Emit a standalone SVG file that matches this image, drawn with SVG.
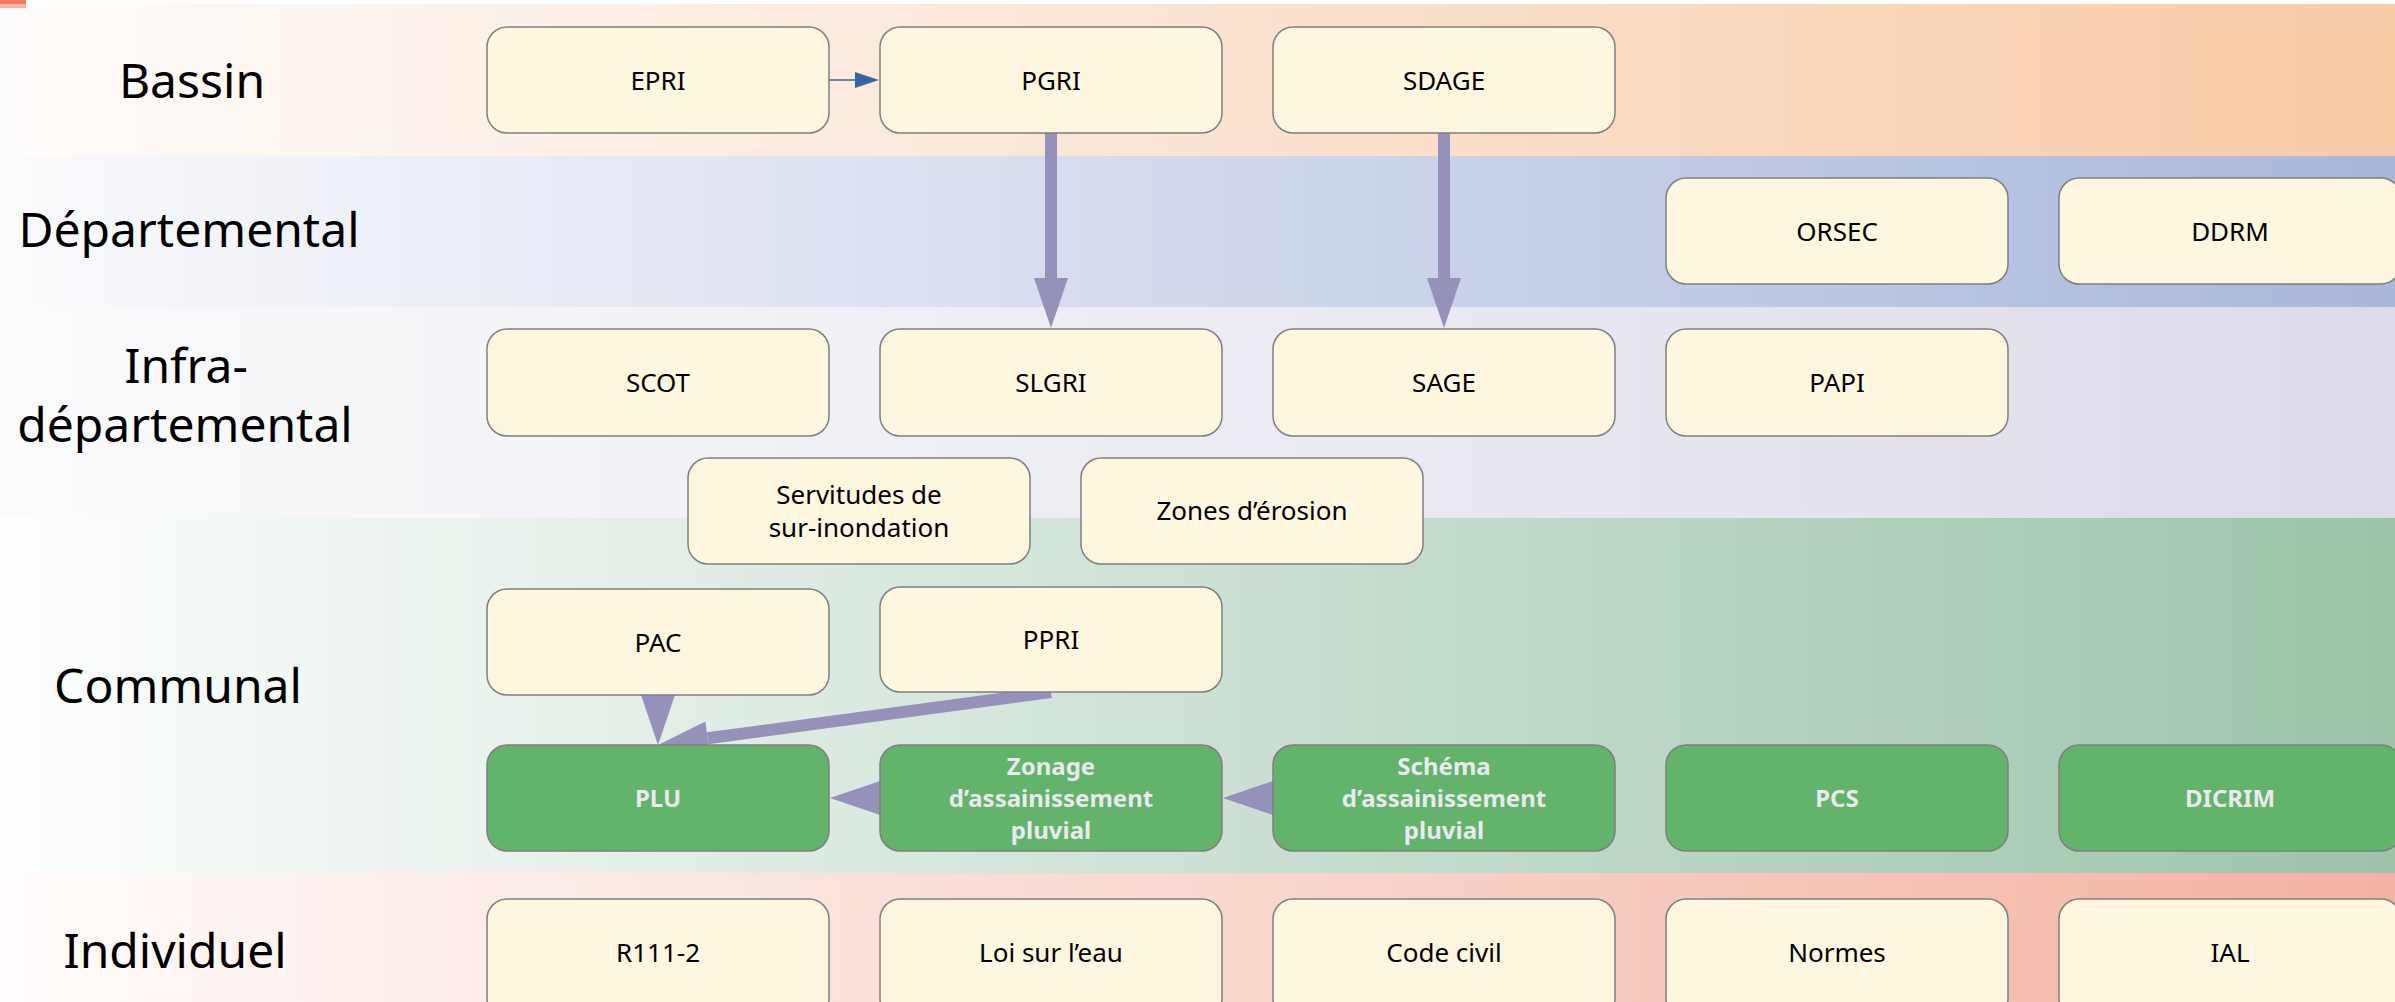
<svg xmlns="http://www.w3.org/2000/svg" width="2395" height="1002" viewBox="0 0 2395 1002">
<defs>
<linearGradient id="gBassin" x1="0" y1="0" x2="1" y2="0"><stop offset="0" stop-color="#fefcfb"/><stop offset="1" stop-color="#f8cba7"/></linearGradient>
<linearGradient id="gDept" x1="0" y1="0" x2="1" y2="0"><stop offset="0" stop-color="#fbfbfd"/><stop offset="1" stop-color="#a9b7db"/></linearGradient>
<linearGradient id="gInfra" x1="0" y1="0" x2="1" y2="0"><stop offset="0" stop-color="#fbfbfc"/><stop offset="1" stop-color="#dedbe9"/></linearGradient>
<linearGradient id="gComm" x1="0" y1="0" x2="1" y2="0"><stop offset="0" stop-color="#fdfefd"/><stop offset="1" stop-color="#9dc4ab"/></linearGradient>
<linearGradient id="gIndiv" x1="0" y1="0" x2="1" y2="0"><stop offset="0" stop-color="#fffcfb"/><stop offset="1" stop-color="#f4b3a2"/></linearGradient>
<marker id="heavy" markerUnits="userSpaceOnUse" markerWidth="50" markerHeight="34" refX="0" refY="17" orient="auto" overflow="visible"><path d="M0,0 L50,17 L0,34 Z" fill="#9591bb"/></marker>
<marker id="blue" markerUnits="userSpaceOnUse" markerWidth="24" markerHeight="16" refX="0" refY="8" orient="auto" overflow="visible"><path d="M0,0 L24,8 L0,16 Z" fill="#3366a8"/></marker>
<style>
.lbl{font-family:"Noto Sans","Liberation Sans",sans-serif;font-size:48px;fill:#000;text-anchor:middle}
.box{fill:#fdf7df;stroke:#7f7f7f;stroke-width:1.5}
.gbox{fill:#62b46a;stroke:#7f7f7f;stroke-width:1.5}
.t{font-family:"Noto Sans","Liberation Sans",sans-serif;font-size:26px;fill:#000;text-anchor:middle}
.gt{font-family:"Noto Sans","Liberation Sans",sans-serif;font-size:24px;font-weight:bold;fill:#ebe9f0;text-anchor:middle}
.heavy{fill:none;stroke:#9591bb;stroke-width:12;marker-end:url(#heavy)}
.thin{fill:none;stroke:#3366a8;stroke-width:1.5;marker-end:url(#blue)}
</style>
</defs>
<rect x="0" y="0" width="2395" height="1002" fill="#ffffff"/>
<g id="bands">
<rect x="0" y="4" width="2395" height="152" fill="url(#gBassin)"/>
<rect x="0" y="156" width="2395" height="151" fill="url(#gDept)"/>
<rect x="0" y="307" width="2395" height="211" fill="url(#gInfra)"/>
<rect x="0" y="518" width="2395" height="355" fill="url(#gComm)"/>
<rect x="0" y="873" width="2395" height="129" fill="url(#gIndiv)"/>
<rect x="0" y="0" width="26" height="4" fill="#ef7c62"/>
<rect x="0" y="4" width="26" height="4" fill="#f6b3a2"/>
</g>
<g id="labels">
<text class="lbl" x="192" y="98">Bassin</text>
<text class="lbl" x="189" y="247">Départemental</text>
<text class="lbl" x="186" y="383">Infra-</text>
<text class="lbl" x="185" y="442">départemental</text>
<text class="lbl" x="178" y="703">Communal</text>
<text class="lbl" x="175" y="968">Individuel</text>
</g>
<g id="connectors">
<path class="thin" d="M829,80 L855,80"/>
<path class="heavy" d="M1051,133 L1051,278"/>
<path class="heavy" d="M1444,133 L1444,278"/>
<path class="heavy" d="M1051,692 L707.6,738.3"/>
<path class="heavy" d="M658,693 L658,695" stroke="none" style="stroke:none"/>
<path class="heavy" d="M882,798 L880,798" style="stroke:none"/>
<path class="heavy" d="M1275,798 L1273,798" style="stroke:none"/>
</g>
<g id="node-EPRI"><rect class="box" x="487" y="27" width="342" height="106" rx="20"/><text class="t" x="658" y="90">EPRI</text></g>
<g id="node-PGRI"><rect class="box" x="880" y="27" width="342" height="106" rx="20"/><text class="t" x="1051" y="90">PGRI</text></g>
<g id="node-SDAGE"><rect class="box" x="1273" y="27" width="342" height="106" rx="20"/><text class="t" x="1444" y="90">SDAGE</text></g>
<g id="node-ORSEC"><rect class="box" x="1666" y="178" width="342" height="106" rx="20"/><text class="t" x="1837" y="241">ORSEC</text></g>
<g id="node-DDRM"><rect class="box" x="2059" y="178" width="342" height="106" rx="20"/><text class="t" x="2230" y="241">DDRM</text></g>
<g id="node-SCOT"><rect class="box" x="487" y="329" width="342" height="107" rx="20"/><text class="t" x="658" y="392">SCOT</text></g>
<g id="node-SLGRI"><rect class="box" x="880" y="329" width="342" height="107" rx="20"/><text class="t" x="1051" y="392">SLGRI</text></g>
<g id="node-SAGE"><rect class="box" x="1273" y="329" width="342" height="107" rx="20"/><text class="t" x="1444" y="392">SAGE</text></g>
<g id="node-PAPI"><rect class="box" x="1666" y="329" width="342" height="107" rx="20"/><text class="t" x="1837" y="392">PAPI</text></g>
<g id="node-Servitudes"><rect class="box" x="688" y="458" width="342" height="106" rx="20"/><text class="t" x="859" y="504">Servitudes de</text><text class="t" x="859" y="537">sur-inondation</text></g>
<g id="node-Zones"><rect class="box" x="1081" y="458" width="342" height="106" rx="20"/><text class="t" x="1252" y="520">Zones d’érosion</text></g>
<g id="node-PAC"><rect class="box" x="487" y="589" width="342" height="106" rx="20"/><text class="t" x="658" y="652">PAC</text></g>
<g id="node-PPRI"><rect class="box" x="880" y="587" width="342" height="105" rx="20"/><text class="t" x="1051" y="649">PPRI</text></g>
<g id="node-PLU"><rect class="gbox" x="487" y="745" width="342" height="106" rx="20"/><text class="gt" x="658" y="807">PLU</text></g>
<g id="node-Zonage"><rect class="gbox" x="880" y="745" width="342" height="106" rx="20"/><text class="gt" x="1051" y="775">Zonage</text><text class="gt" x="1051" y="807">d’assainissement</text><text class="gt" x="1051" y="839">pluvial</text></g>
<g id="node-Schema"><rect class="gbox" x="1273" y="745" width="342" height="106" rx="20"/><text class="gt" x="1444" y="775">Schéma</text><text class="gt" x="1444" y="807">d’assainissement</text><text class="gt" x="1444" y="839">pluvial</text></g>
<g id="node-PCS"><rect class="gbox" x="1666" y="745" width="342" height="106" rx="20"/><text class="gt" x="1837" y="807">PCS</text></g>
<g id="node-DICRIM"><rect class="gbox" x="2059" y="745" width="342" height="106" rx="20"/><text class="gt" x="2230" y="807">DICRIM</text></g>
<g id="node-R111"><rect class="box" x="487" y="899" width="342" height="120" rx="20"/><text class="t" x="658" y="962">R111-2</text></g>
<g id="node-Loi"><rect class="box" x="880" y="899" width="342" height="120" rx="20"/><text class="t" x="1051" y="962">Loi sur l’eau</text></g>
<g id="node-Code"><rect class="box" x="1273" y="899" width="342" height="120" rx="20"/><text class="t" x="1444" y="962">Code civil</text></g>
<g id="node-Normes"><rect class="box" x="1666" y="899" width="342" height="120" rx="20"/><text class="t" x="1837" y="962">Normes</text></g>
<g id="node-IAL"><rect class="box" x="2059" y="899" width="342" height="120" rx="20"/><text class="t" x="2230" y="962">IAL</text></g>
</svg>
